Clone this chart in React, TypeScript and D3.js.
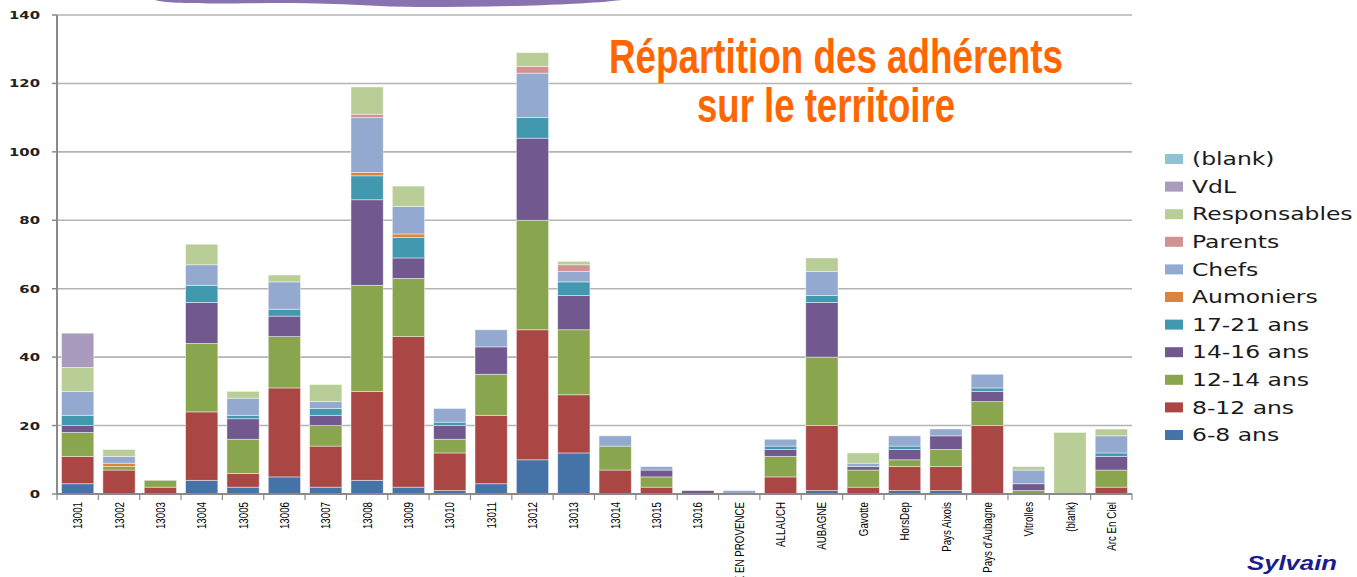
import React from 'react'
import { scaleBand, scaleLinear, stack } from 'd3'

const categories = ['13001', '13002', '13003', '13004', '13005', '13006', '13007', '13008', '13009', '13010',
  '13011', '13012', '13013', '13014', '13015', '13016', 'AIX EN PROVENCE', 'ALLAUCH', 'AUBAGNE', 'Gavotte',
  'HorsDep', 'Pays Aixois', "Pays d'Aubagne", 'Vitrolles', '(blank)', 'Arc En Ciel']

const ans6_8 = [3, 0, 0, 4, 2, 5, 2, 4, 2, 1, 3, 10, 12, 0, 0, 0, 0, 0, 1, 0, 1, 1, 0, 0, 0, 0]
const ans8_12 = [8, 7, 2, 20, 4, 26, 12, 26, 44, 11, 20, 38, 17, 7, 2, 0, 0, 5, 19, 2, 7, 7, 20, 0, 0, 2]
const ans12_14 = [7, 1, 2, 20, 10, 15, 6, 31, 17, 4, 12, 32, 19, 7, 3, 0, 0, 6, 20, 5, 2, 5, 7, 1, 0, 5]
const ans14_16 = [2, 0, 0, 12, 6, 6, 3, 25, 6, 4, 8, 24, 10, 0, 2, 1, 0, 2, 16, 1, 3, 4, 3, 2, 0, 4]
const ans17_21 = [3, 0, 0, 5, 1, 2, 2, 7, 6, 1, 0, 6, 4, 0, 0, 0, 0, 1, 2, 0, 1, 0, 1, 0, 0, 1]
const aumoniers = [0, 1, 0, 0, 0, 0, 0, 1, 1, 0, 0, 0, 0, 0, 0, 0, 0, 0, 0, 0, 0, 0, 0, 0, 0, 0]
const chefs = [7, 2, 0, 6, 5, 8, 2, 16, 8, 4, 5, 13, 3, 3, 1, 0, 1, 2, 7, 1, 3, 2, 4, 4, 0, 5]
const parents = [0, 0, 0, 0, 0, 0, 0, 1, 0, 0, 0, 2, 2, 0, 0, 0, 0, 0, 0, 0, 0, 0, 0, 0, 0, 0]
const responsables = [7, 2, 0, 6, 2, 2, 5, 8, 6, 0, 0, 4, 1, 0, 0, 0, 0, 0, 4, 3, 0, 0, 0, 1, 18, 2]
const vdl = [10, 0, 0, 0, 0, 0, 0, 0, 0, 0, 0, 0, 0, 0, 0, 0, 0, 0, 0, 0, 0, 0, 0, 0, 0, 0]
const blank = [0, 0, 0, 0, 0, 0, 0, 0, 0, 0, 0, 0, 0, 0, 0, 0, 0, 0, 0, 0, 0, 0, 0, 0, 0, 0]

// bottom to top
const seriesNames = ['6-8 ans', '8-12 ans', '12-14 ans', '14-16 ans', '17-21 ans', 'Aumoniers', 'Chefs',
  'Parents', 'Responsables', 'VdL', '(blank)']
const seriesValues = [ans6_8, ans8_12, ans12_14, ans14_16, ans17_21, aumoniers, chefs, parents, responsables, vdl, blank]
const seriesColors = ['#4572A7', '#AA4643', '#89A54E', '#71588F', '#4198AF', '#DB843D', '#93A9CF',
  '#D19392', '#B9CD96', '#A99BBD', '#8EC3D5']

const yTicks = [0, 20, 40, 60, 80, 100, 120, 140]

const W = 1357
const H = 577
const left = 57
const right = 1132
const top = 15
const bottom = 494

const App = () => {
  const rows = categories.map((c, i) => {
    const r: any = { cat: c }
    seriesNames.forEach((s, j) => { r[s] = seriesValues[j][i] })
    return r
  })
  const stacked = stack().keys(seriesNames)(rows)

  const x = scaleBand().domain(categories).range([left, right]).paddingInner(0.22).paddingOuter(0.11)
  const y = scaleLinear().domain([0, 140]).range([bottom, top])
  const step = x.step()

  const tickX = categories.map(c => x(c)! - step * 0.11).concat([right])

  return (
    <svg width={W} height={H} style={{ position: 'absolute', left: 0, top: 0, background: '#fff' }}>
      {/* decoration at top */}
      <path d="M155,0 C170,5 230,3 290,3 C340,3 380,7 420,7 C500,7 580,5 622,0 Z" fill="#8872B0" />

      {/* grid */}
      {yTicks.filter(t => t > 0).map(t => (
        <line key={t} x1={left} x2={right} y1={y(t)} y2={y(t)} stroke="#B4B4B4" strokeWidth={1.6} />
      ))}

      {/* bars */}
      {stacked.map((s, j) => (
        <g key={s.key} fill={seriesColors[j]}>
          {s.map((d, i) => d[1] - d[0] > 0 ? (
            <rect key={i} x={x(categories[i])} width={x.bandwidth()} y={y(d[1])} height={y(d[0]) - y(d[1])}
              stroke="rgba(255,255,255,0.55)" strokeWidth={0.8} />
          ) : null)}
        </g>
      ))}

      {/* axes */}
      <line x1={left} x2={left} y1={top} y2={bottom} stroke="#8A8A8A" strokeWidth={2} />
      <line x1={left} x2={right} y1={bottom} y2={bottom} stroke="#8A8A8A" strokeWidth={2} />
      {yTicks.map(t => (
        <g key={t}>
          <line x1={left - 5} x2={left} y1={y(t)} y2={y(t)} stroke="#8A8A8A" strokeWidth={1.5} />
          <text transform={`translate(40,${y(t)}) scale(1.35,1)`} dy="0.36em" textAnchor="end"
            fontFamily="DejaVu Sans" fontWeight="bold" fontSize={11} fill="#222">{t}</text>
        </g>
      ))}
      {tickX.map((tx, i) => (
        <line key={i} x1={tx} x2={tx} y1={bottom} y2={bottom + 6} stroke="#8A8A8A" strokeWidth={1.2} />
      ))}
      {categories.map(c => (
        <text key={c} transform={`translate(${x(c)! + x.bandwidth() / 2},502) rotate(-90) scale(0.75,1)`}
          dy="0.35em" textAnchor="end" fontFamily="'Liberation Sans', Arial, sans-serif" fontSize={13}
          fill="#000">{c}</text>
      ))}

      {/* legend */}
      {seriesNames.slice().reverse().map((s, i) => {
        const ly = 159 + i * 27.6
        return (
          <g key={s}>
            <rect x={1165} y={ly - 5} width={18} height={10} fill={seriesColors[seriesNames.length - 1 - i]} />
            <text transform={`translate(1192,${ly}) scale(1.38,1)`} dy="0.36em" fontFamily="DejaVu Sans"
              fontSize={17} fill="#1a1a1a">{s}</text>
          </g>
        )
      })}

      {/* title */}
      <text x={609} y={73} fontFamily="'Liberation Sans Narrow', 'Arial Narrow', 'Liberation Sans', sans-serif"
        fontWeight="bold" fontSize={48} fill="#FF6600" textLength={454} lengthAdjust="spacingAndGlyphs">Répartition des adhérents</text>
      <text x={697} y={122} fontFamily="'Liberation Sans Narrow', 'Arial Narrow', 'Liberation Sans', sans-serif"
        fontWeight="bold" fontSize={48} fill="#FF6600" textLength={258} lengthAdjust="spacingAndGlyphs">sur le territoire</text>

      <text x={1247} y={570} fontFamily="'Liberation Sans', Arial, sans-serif" fontWeight="bold" fontStyle="italic"
        fontSize={21} fill="#1C1C8E" textLength={90} lengthAdjust="spacingAndGlyphs">Sylvain</text>
    </svg>
  )
}

export default App
